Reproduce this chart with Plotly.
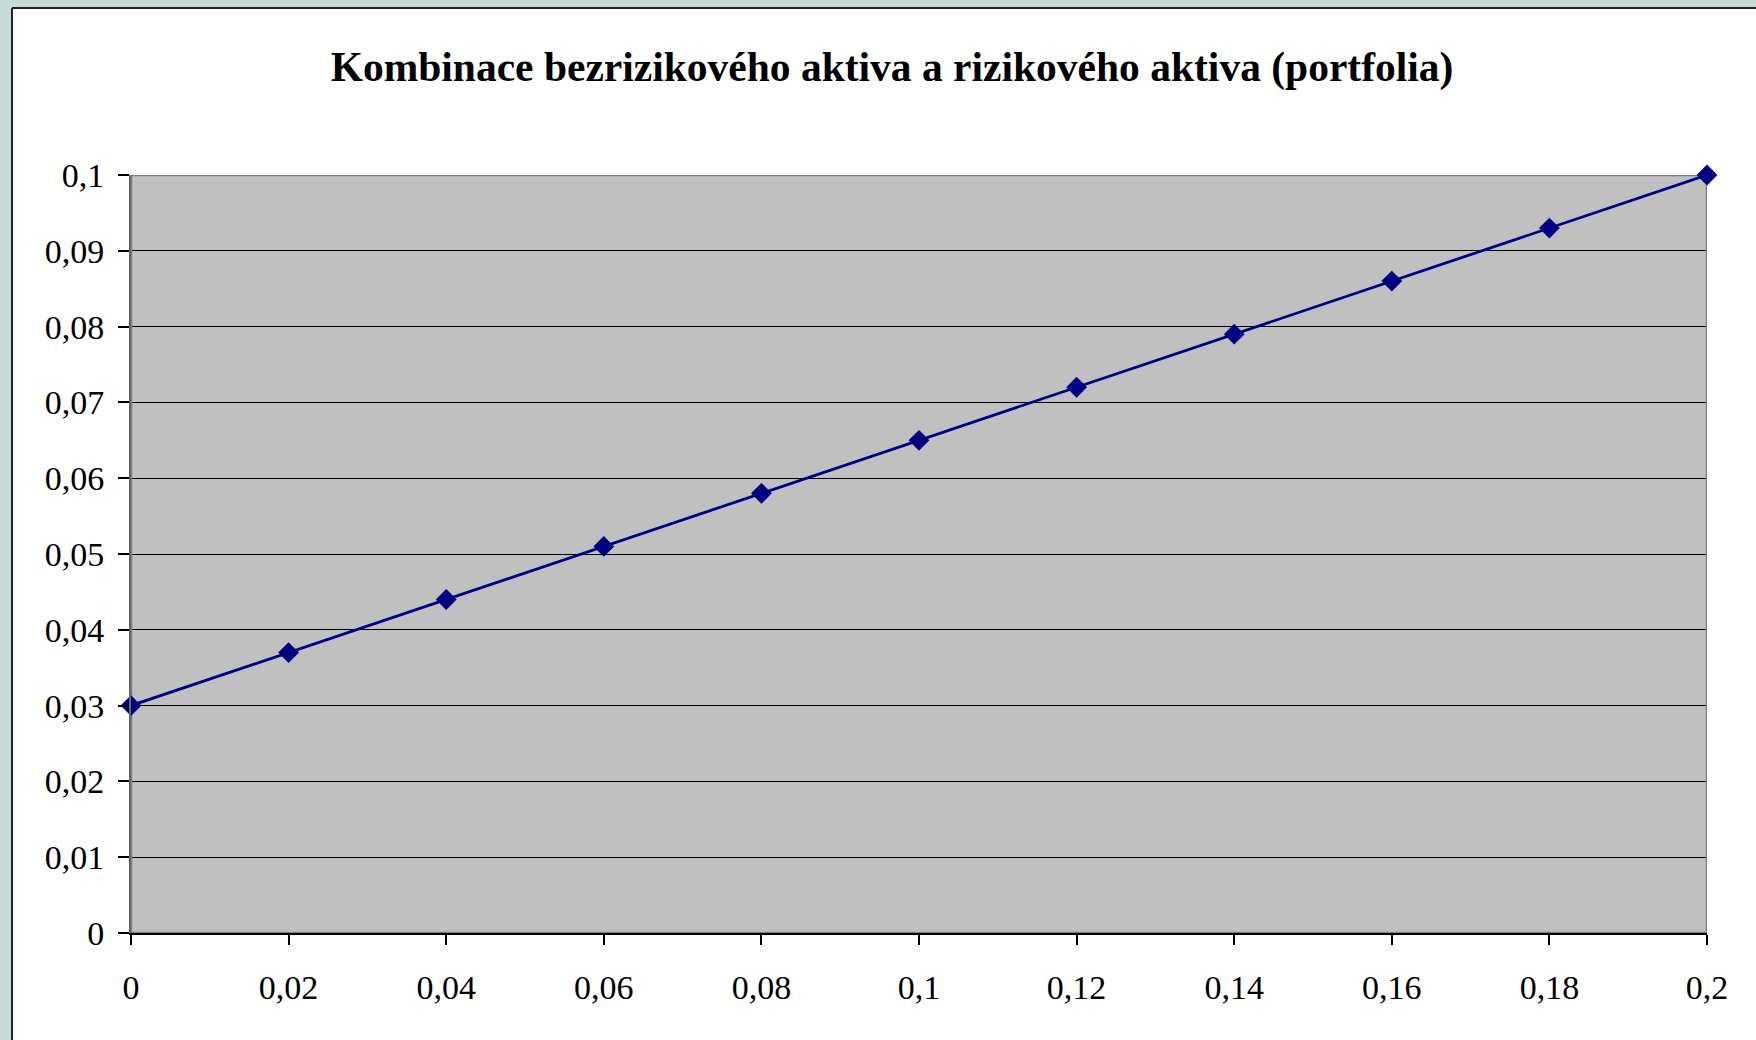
import plotly.graph_objects as go

# Data
sigma = [0, 0.02, 0.04, 0.06, 0.08, 0.10, 0.12, 0.14, 0.16, 0.18, 0.20]
ret = [0.030, 0.037, 0.044, 0.051, 0.058, 0.065, 0.072, 0.079, 0.086, 0.093, 0.100]

x_tickvals = [0, 0.02, 0.04, 0.06, 0.08, 0.10, 0.12, 0.14, 0.16, 0.18, 0.20]
x_ticktext = ["0", "0,02", "0,04", "0,06", "0,08", "0,1", "0,12", "0,14", "0,16", "0,18", "0,2"]
y_tickvals = [0, 0.01, 0.02, 0.03, 0.04, 0.05, 0.06, 0.07, 0.08, 0.09, 0.10]
y_ticktext = ["0", "0,01", "0,02", "0,03", "0,04", "0,05", "0,06", "0,07", "0,08", "0,09", "0,1"]

title_text = "Kombinace bezrizikového aktiva a rizikového aktiva (portfolia)"

W, H = 1756, 1040
L, R, T, B = 131, 49, 175, 107
pw = W - L - R
ph = H - T - B

def px_x(p):
    return (p - L) / pw

def px_y(p):
    return (T + ph - p) / ph

fig = go.Figure()
fig.add_trace(go.Scatter(
    x=sigma, y=ret, mode="lines+markers",
    line=dict(color="#000080", width=2.8),
    marker=dict(symbol="diamond", size=16, color="#000080"),
    cliponaxis=False, showlegend=False,
))

font_family = "Liberation Serif, Times New Roman, serif"
teal = "#c6dad8"

fig.update_layout(
    width=W, height=H,
    margin=dict(l=L, r=R, t=T, b=B, pad=0),
    paper_bgcolor="white",
    plot_bgcolor="#c0c0c0",
    font=dict(family=font_family, size=34, color="black"),
    title=dict(text="<b>" + title_text + "</b>", x=892 / W, xref="container", xanchor="center",
               y=1 - 66 / H, yref="container", yanchor="middle",
               font=dict(family=font_family, size=41.5, color="black")),
    xaxis=dict(range=[x_tickvals[0], x_tickvals[-1]], tickvals=x_tickvals, ticktext=x_ticktext,
               showgrid=False, zeroline=False, showline=True, linecolor="black", linewidth=2,
               ticks="outside", ticklen=10, tickwidth=1.5, tickcolor="black",
               ticklabelstandoff=13),
    yaxis=dict(range=[y_tickvals[0], y_tickvals[-1]], tickvals=y_tickvals, ticktext=y_ticktext,
               showgrid=True, gridcolor="black", gridwidth=1.2, zeroline=False,
               showline=True, linecolor="#666666", linewidth=2,
               ticks="outside", ticklen=11, tickwidth=1.5, tickcolor="black",
               ticklabelstandoff=7),
)

# Teal surround (top strip and left strip) with dark border of the chart area
fig.add_shape(type="rect", xref="paper", yref="paper", layer="below",
              x0=px_x(-10), x1=px_x(W + 10), y0=px_y(8), y1=px_y(-10),
              fillcolor=teal, line=dict(width=0))
fig.add_shape(type="rect", xref="paper", yref="paper", layer="below",
              x0=px_x(-10), x1=px_x(12), y0=px_y(H + 10), y1=px_y(-10),
              fillcolor=teal, line=dict(width=0))
fig.add_shape(type="line", xref="paper", yref="paper", layer="below",
              x0=px_x(12), x1=px_x(W + 10), y0=px_y(8), y1=px_y(8),
              line=dict(color="#222222", width=2))
fig.add_shape(type="line", xref="paper", yref="paper", layer="below",
              x0=px_x(12), x1=px_x(12), y0=px_y(8), y1=px_y(H + 10),
              line=dict(color="#222222", width=2))
# Grey plot-area border (top/right)
fig.add_shape(type="rect", xref="x", yref="y", layer="between",
              x0=x_tickvals[0], x1=x_tickvals[-1], y0=y_tickvals[0], y1=y_tickvals[-1],
              line=dict(color="#808080", width=2.5), fillcolor="rgba(0,0,0,0)")

fig.write_html("out.html", config={"displayModeBar": False},
               post_script="document.body.style.margin='0';")
